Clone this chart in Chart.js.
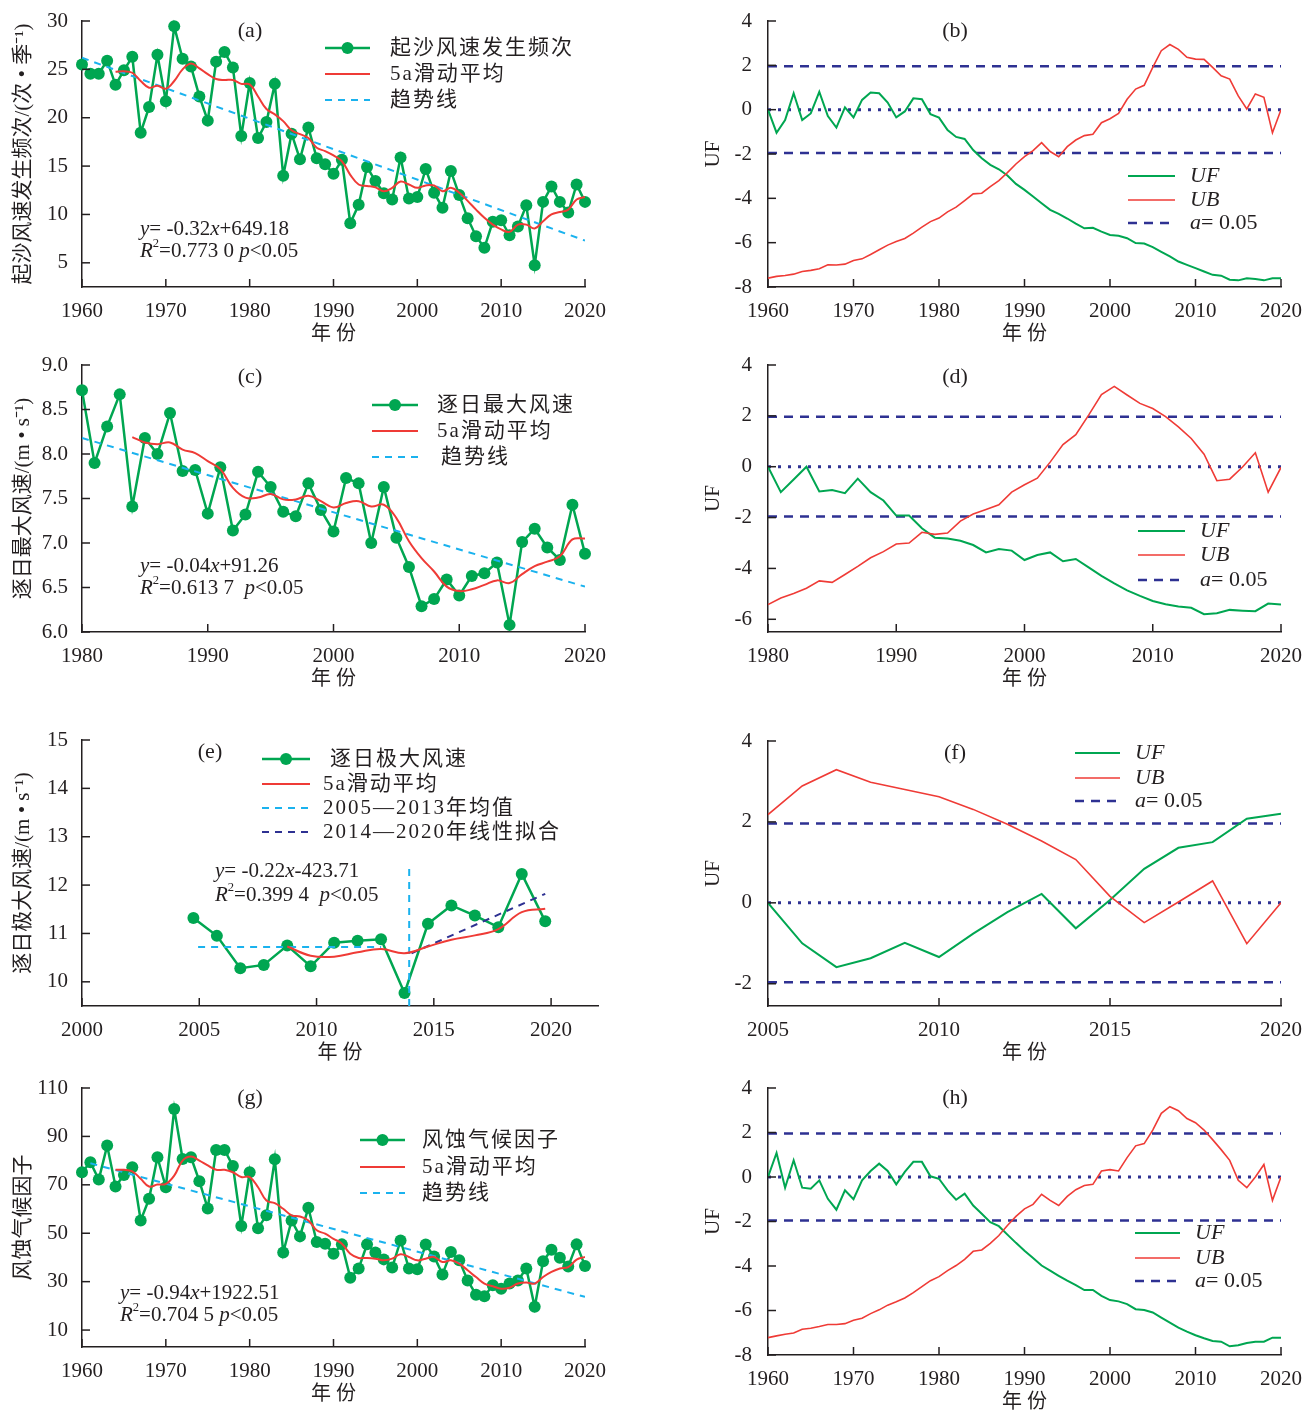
<!DOCTYPE html>
<html><head><meta charset="utf-8">
<script src="https://cdn.jsdelivr.net/npm/chart.js@4.4.1/dist/chart.umd.min.js"></script>
<style>
html,body{margin:0;padding:0;background:#fff;overflow:hidden;width:1306px;height:1411px;}
canvas{position:absolute;}
</style></head><body>
<script>
// ---------------- DATA ----------------
function range(a,b){const r=[];for(let i=a;i<=b;i++)r.push(i);return r;}
const years60 = range(1960,2020);
const years80 = range(1980,2020);
const years05 = range(2005,2020);

// (a) 起沙风速发生频次
const freqA = [25.5,24.55,24.55,25.9,23.4,24.9,26.3,18.45,21.1,26.5,
  21.7,29.45,26.1,25.3,22.2,19.7,25.8,26.8,25.2,18.1,
  23.6,17.9,19.55,23.5,14.0,18.35,15.7,19.0,15.8,15.2,
  14.2,15.65,9.1,11.0,14.9,13.45,12.2,11.55,15.9,11.65,
  11.8,14.7,12.25,10.7,14.5,12.0,9.6,7.75,6.55,9.25,
  9.4,7.85,8.75,10.95,4.75,11.3,12.9,11.3,10.2,13.1,11.3];
const maYearsA = range(1964,2020);
const maA = [24.76,24.8,24.65,23.8,23.1,23.3,
  23.0,23.8,25.0,25.6,25.1,24.5,24.0,23.9,23.9,23.5,
  23.45,22.2,20.9,20.35,19.65,18.7,18.3,17.9,16.9,16.55,
  16.1,15.5,14.1,13.1,12.95,12.8,12.4,12.75,13.4,13.1,
  12.75,13.0,13.0,12.4,12.75,12.25,11.4,10.5,9.65,8.95,
  8.45,8.2,8.95,8.95,8.55,9.3,10.0,10.25,10.5,11.55,11.8];
const trendXA = [1960,2020], trendA = [26.2,7.3];
const ufB = [0,-1.04,-0.47,0.74,-0.47,-0.17,0.8,-0.29,-0.81,0.1,
  -0.35,0.44,0.77,0.74,0.32,-0.35,-0.08,0.51,0.47,-0.2,
  -0.36,-0.92,-1.23,-1.32,-1.82,-2.19,-2.49,-2.69,-2.97,-3.35,
  -3.62,-3.92,-4.22,-4.52,-4.7,-4.91,-5.14,-5.35,-5.33,-5.5,
  -5.65,-5.69,-5.8,-6.02,-6.04,-6.2,-6.41,-6.62,-6.85,-7.0,
  -7.15,-7.3,-7.45,-7.49,-7.67,-7.7,-7.61,-7.64,-7.7,-7.61,-7.61];
const ubB = [-7.6,-7.52,-7.48,-7.42,-7.3,-7.25,-7.18,-7.0,-7.01,-6.97,
  -6.8,-6.73,-6.53,-6.32,-6.11,-5.95,-5.81,-5.57,-5.3,-5.05,
  -4.89,-4.61,-4.4,-4.1,-3.8,-3.77,-3.47,-3.2,-2.84,-2.45,
  -2.12,-1.85,-1.49,-1.89,-2.12,-1.67,-1.37,-1.17,-1.11,-0.59,
  -0.41,-0.17,0.47,0.93,1.1,1.91,2.66,2.94,2.72,2.36,
  2.28,2.27,1.91,1.53,1.38,0.62,0.03,0.71,0.56,-1.04,0];

// (c) 逐日最大风速
const maxC = [8.715,7.9,8.31,8.67,7.41,8.18,8.0,8.46,7.81,7.82,
  7.33,7.85,7.14,7.32,7.8,7.63,7.35,7.3,7.67,7.37,
  7.13,7.73,7.67,7.0,7.63,7.06,6.73,6.29,6.37,6.59,
  6.41,6.63,6.66,6.78,6.08,7.01,7.16,6.95,6.81,7.43,6.88];
const maYearsC = range(1984,2020);
const maC = [8.19,8.13,8.11,8.13,8.05,8.01,
  7.92,7.83,7.62,7.51,7.51,7.55,7.49,7.49,7.53,7.47,
  7.4,7.45,7.47,7.41,7.43,7.28,7.02,6.83,6.68,6.51,
  6.46,6.48,6.53,6.58,6.55,6.65,6.74,6.79,6.85,7.04,7.05];
const trendXC = [1980,2020], trendC = [8.18,6.51];
const ufD = [0,-1.0,-0.5,0,-0.97,-0.92,-1.04,-0.47,-1.0,-1.33,
  -1.92,-1.92,-2.42,-2.79,-2.82,-2.91,-3.08,-3.37,-3.24,-3.3,
  -3.67,-3.47,-3.37,-3.72,-3.63,-3.96,-4.29,-4.59,-4.86,-5.08,
  -5.28,-5.41,-5.5,-5.55,-5.8,-5.76,-5.63,-5.66,-5.68,-5.38,-5.42];
const ubD = [-5.42,-5.16,-4.99,-4.78,-4.49,-4.55,-4.24,-3.92,-3.58,-3.34,
  -3.04,-3.0,-2.58,-2.66,-2.61,-2.14,-1.86,-1.68,-1.5,-1.0,
  -0.71,-0.45,0.18,0.87,1.26,2.03,2.84,3.16,2.82,2.49,
  2.29,1.97,1.57,1.11,0.49,-0.55,-0.49,-0.01,0.55,-1.0,-0.03];

// (e) 逐日极大风速
const extE = [11.32,10.95,10.28,10.35,10.75,10.32,10.81,10.85,10.88,9.77,11.2,11.58,11.37,11.13,12.23,11.25];
const maYearsE = range(2009,2020);
const maE = [10.73,10.54,10.52,10.61,10.68,10.59,10.73,10.87,10.96,11.09,11.44,11.51];
const meanXE = [2005.2,2013], meanE = [10.72,10.72];
const fitXE = [2014.3,2020], fitE = [10.59,11.82];
const breakXE = [2014.2,2014.2], breakE = [9.5,12.4];
const ufF = [0,-1.0,-1.59,-1.37,-0.99,-1.34,-0.76,-0.23,0.22,-0.63,0.07,0.84,1.36,1.5,2.08,2.2];
const ubF = [2.18,2.89,3.29,2.98,2.8,2.62,2.31,1.94,1.53,1.07,0.16,-0.49,0.02,0.54,-1.01,0];

// (g) 风蚀气候因子
const factorG = [75.2,79.3,72.2,86.2,69.3,74.1,77.3,55.3,64.2,81.4,
  69.0,101.3,80.7,81.4,71.5,60.2,84.4,84.4,77.8,53.0,
  75.2,52.1,57.4,80.6,42.0,55.3,48.7,60.5,46.4,45.7,
  41.5,45.4,31.6,35.4,45.4,42.0,39.2,35.8,47.0,35.4,
  35.1,45.3,40.4,33.0,42.2,38.8,30.5,24.6,24.0,28.5,
  27.1,29.2,30.5,35.4,19.6,38.4,43.2,39.9,36.3,45.4,36.5];
const maYearsG = range(1964,2020);
const maG = [76.2,76.2,75.6,72.5,69.3,70.1,
  70.4,73.8,80.0,81.7,80.0,78.0,76.2,76.2,75.2,73.2,
  73.2,69.0,63.5,62.4,60.1,57.4,56.9,55.3,51.2,49.8,
  47.7,45.7,41.5,39.8,39.8,39.5,38.8,39.5,41.3,40.2,
  38.8,39.5,40.2,38.1,38.8,37.4,34.7,31.9,29.2,28.1,
  27.1,27.5,29.2,29.6,29.2,31.9,34.0,35.4,36.0,39.1,40.2];
const trendXG = [1961,2020], trendG = [78.9,23.7];
const ufH = [0,1.08,-0.48,0.75,-0.48,-0.53,-0.15,-0.98,-1.47,-0.6,
  -1.0,-0.15,0.27,0.6,0.27,-0.33,0.23,0.68,0.68,0.03,
  -0.08,-0.6,-1.02,-0.75,-1.28,-1.65,-2.03,-2.21,-2.59,-2.96,
  -3.31,-3.64,-3.98,-4.21,-4.44,-4.66,-4.86,-5.08,-5.08,-5.34,
  -5.53,-5.59,-5.71,-5.94,-5.98,-6.09,-6.32,-6.54,-6.77,-6.95,
  -7.11,-7.25,-7.37,-7.4,-7.61,-7.56,-7.46,-7.4,-7.4,-7.22,-7.22];
const ubH = [-7.22,-7.14,-7.07,-7.01,-6.84,-6.8,-6.72,-6.63,-6.63,-6.59,
  -6.44,-6.35,-6.14,-5.97,-5.76,-5.61,-5.44,-5.2,-4.93,-4.66,
  -4.48,-4.21,-3.98,-3.7,-3.34,-3.28,-2.98,-2.63,-2.18,-1.77,
  -1.43,-1.23,-0.78,-1.05,-1.28,-0.87,-0.57,-0.38,-0.33,0.27,
  0.33,0.27,0.87,1.4,1.5,2.11,2.86,3.16,2.98,2.63,
  2.44,2.11,1.68,1.23,0.75,-0.15,-0.48,0,0.56,-1.05,0];

const critU = 1.96;
// tick labels
const xTicks60 = [1960,1970,1980,1990,2000,2010,2020];
const xTicks80 = [1980,1990,2000,2010,2020];
const xTicksE = [2000,2005,2010,2015,2020];
const xTicksF = [2005,2010,2015,2020];
const yTicksA = [5,10,15,20,25,30];
const yTicksC = [6.0,6.5,7.0,7.5,8.0,8.5,9.0];
const yTicksE = [10,11,12,13,14,15];
const yTicksG = [10,30,50,70,90,110];
const yTicksUF8 = [-8,-6,-4,-2,0,2,4];
const yTicksUF6 = [-6,-4,-2,0,2,4];
const yTicksUF2 = [-2,0,2,4];
const xShiftE = 0.25;

// ---------------- STYLE ----------------
const G='#00a651', RD='#ef3b36', LB='#1ab2ee', NV='#2e3192', AX='#231f20';
const SERIF="'Liberation Serif','Noto Sans CJK SC',serif";
const CJK="'Liberation Serif','Noto Sans CJK SC',sans-serif";
function pts(xs,ys){return ys.map((y,i)=>({x:xs[i],y:y}));}

function dsGreen(xs,ys){return {data:pts(xs,ys),borderColor:G,backgroundColor:G,borderWidth:2.5,pointRadius:6,pointBorderWidth:0,pointHoverRadius:6,clip:false,order:3};}
function dsRed(xs,ys){return {data:pts(xs,ys),borderColor:RD,borderWidth:2,pointRadius:0,tension:0.4,order:1};}
function dsDash(xs,ys,c){return {data:pts(xs,ys),borderColor:c,borderWidth:2,borderDash:[7,6],pointRadius:0,order:2};}
function dsUF(xs,ys){return {data:pts(xs,ys),borderColor:G,borderWidth:2,pointRadius:0,order:2};}
function dsUB(xs,ys){return {data:pts(xs,ys),borderColor:RD,borderWidth:1.6,pointRadius:0,order:1};}
function dsRef(x0,x1,v,dotted){return {data:[{x:x0,y:v},{x:x1,y:v}],borderColor:NV,borderWidth:dotted?3:2.5,borderDash:dotted?[3,7]:[9,7],pointRadius:0,order:4};}
function refSet(x0,x1){return [dsRef(x0,x1,critU,false),dsRef(x0,x1,0,true),dsRef(x0,x1,-critU,false)];}

function drawRich(ctx,x,y,segs,size,align,ls){
  let w=0;
  const parts=segs.map(s=>{
    const st=s[1]||'';
    const sz= st==='sup'? size*0.6 : size;
    const f=(st==='i'?'italic ':'')+sz+'px '+SERIF;
    ctx.font=f;
    const l=(st===''&&ls)?ls:'0px';
    if('letterSpacing' in ctx) ctx.letterSpacing=l;
    const mw=ctx.measureText(s[0]).width;
    const p={t:s[0],f:f,w:mw,dy:st==='sup'?-size*0.33:0,ls:l};
    w+=mw; return p;
  });
  let cx= align==='center'? x-w/2 : x;
  ctx.textBaseline='middle'; ctx.textAlign='left'; ctx.fillStyle='#231f20';
  parts.forEach(p=>{ctx.font=p.f; if('letterSpacing' in ctx) ctx.letterSpacing=p.ls; ctx.fillText(p.t,cx,y+p.dy); cx+=p.w;});
  if('letterSpacing' in ctx) ctx.letterSpacing='0px';
}

const legendStyle={
  g:{c:G,w:2.5,d:[],m:true}, r:{c:RD,w:2,d:[]}, lb:{c:LB,w:2,d:[7,6]}, nv:{c:NV,w:2,d:[7,6]},
  uf:{c:G,w:2,d:[]}, ub:{c:RD,w:1.6,d:[]}, a:{c:NV,w:2.5,d:[9,7]}
};

function panel(p){
  const YW=75, XH=60, PT=34, PR=42;
  const ox=p.L-YW, oy=p.T-PT;
  const w=p.R-p.L+YW+PR, h=p.B-p.T+PT+XH;
  const cv=document.createElement('canvas');
  cv.width=w; cv.height=h;
  cv.style.left=ox+'px'; cv.style.top=oy+'px'; cv.style.width=w+'px'; cv.style.height=h+'px';
  document.body.appendChild(cv);
  const decor={id:'decor',afterDraw(chart){
    const ctx=chart.ctx, ca=chart.chartArea, xs=chart.scales.x, ys=chart.scales.y;
    ctx.save();
    ctx.strokeStyle=AX; ctx.lineWidth=1.5; ctx.setLineDash([]);
    const len=8;
    xs.ticks.forEach(t=>{const px=xs.getPixelForValue(t.value);ctx.beginPath();ctx.moveTo(px,ca.bottom);ctx.lineTo(px,ca.bottom-len);ctx.stroke();});
    ys.ticks.forEach(t=>{const py=ys.getPixelForValue(t.value);ctx.beginPath();ctx.moveTo(ca.left,py);ctx.lineTo(ca.left+len,py);ctx.stroke();});
    // legend
    const lg=p.legend;
    lg.rows.forEach(r=>{
      const s=legendStyle[r.k];
      ctx.strokeStyle=s.c; ctx.lineWidth=s.w; ctx.setLineDash(s.d);
      ctx.beginPath(); ctx.moveTo(lg.x1-ox,r.y-oy); ctx.lineTo(lg.x2-ox,r.y-oy); ctx.stroke();
      ctx.setLineDash([]);
      if(s.m){ctx.fillStyle=s.c;ctx.beginPath();ctx.arc((lg.x1+lg.x2)/2-ox,r.y-oy,6,0,Math.PI*2);ctx.fill();}
      drawRich(ctx,(r.tx||lg.tx)-ox,r.y-oy,r.segs,lg.size,'left',lg.ls);
    });
    (p.texts||[]).forEach(t=>drawRich(ctx,t.x-ox,t.y-oy,t.segs,t.size,t.align||'left'));
    ctx.restore();
  }};
  const tickFont={family:SERIF,size:21};
  new Chart(cv,{
    type:'line',
    data:{datasets:p.datasets},
    options:{
      responsive:false,animation:false,devicePixelRatio:1,
      events:[],
      layout:{padding:{top:PT,right:PR,left:0,bottom:0}},
      plugins:{legend:{display:false},tooltip:{enabled:false}},
      scales:{
        x:{type:'linear',min:p.xmin,max:p.xmax,
          afterBuildTicks:s=>{s.ticks=p.xticks.map(v=>({value:v+(p.xshift||0)}));},
          afterFit:s=>{s.height=XH;},
          grid:{display:false,drawTicks:false},
          border:{color:AX,width:1.5},
          ticks:{padding:12,color:AX,font:tickFont,autoSkip:false,maxRotation:0,
            callback:v=>String(Math.round(v-(p.xshift||0)))},
          title:{display:true,text:'年 份',color:AX,font:{family:CJK,size:20},padding:{top:2,bottom:0}}
        },
        y:{type:'linear',min:p.ymin,max:p.ymax,
          afterBuildTicks:s=>{s.ticks=p.yticks.map(v=>({value:v}));},
          afterFit:s=>{s.width=YW;},
          grid:{display:false,drawTicks:false},
          border:{color:AX,width:1.5},
          ticks:{padding:p.ypad,color:AX,font:tickFont,autoSkip:false,
            callback:v=>p.ydec?v.toFixed(p.ydec):String(v)},
          title:{display:true,text:p.ytitle,color:AX,font:{family:p.ytitleFont||CJK,size:p.ytitleSize||21},padding:{top:p.ytpad,bottom:0}}
        }
      }
    },
    plugins:[decor]
  });
}

const lbl=(t,x,y)=>({x:x,y:y,segs:[[t,'']],size:22,align:'center'});
const eq1=(x,y,a,b)=>({x:x,y:y,size:21,segs:[['y','i'],['= '+a,''],['x','i'],[b,'']]});
const eq2=(x,y,r,gap)=>({x:x,y:y,size:21,segs:[['R','i'],['2','sup'],['='+r+gap,''],['p','i'],['<0.05','']]});
const ufLegend=(x1,x2,tx,y1,y2,y3)=>({x1:x1,x2:x2,tx:tx,size:22,rows:[
  {k:'uf',y:y1,segs:[['UF','i']]},{k:'ub',y:y2,segs:[['UB','i']]},{k:'a',y:y3,segs:[['a','i'],['= 0.05','']]}]});

// (a)
panel({L:82,T:21,R:585,B:287,xmin:1960,xmax:2020,ymin:2.5,ymax:30,xticks:xTicks60,yticks:yTicksA,ypad:14,
  ytitle:'起沙风速发生频次/(次 • 季⁻¹)',ytpad:4,
  datasets:[dsRed(maYearsA,maA),dsDash(trendXA,trendA,LB),dsGreen(years60,freqA)],
  legend:{x1:325,x2:370,tx:390,size:21,ls:'2px',rows:[{k:'g',y:48,segs:[['起沙风速发生频次','']]},{k:'r',y:74,segs:[['5a滑动平均','']]},{k:'lb',y:100,segs:[['趋势线','']]}]},
  texts:[lbl('(a)',250,31),eq1(140,229,'-0.32','+649.18'),eq2(140,251,'0.773 0',' ')]});
// (b)
panel({L:768,T:21,R:1281,B:287,xmin:1960,xmax:2020,ymin:-8,ymax:4,xticks:xTicks60,yticks:yTicksUF8,ypad:16,
  ytitle:'UF',ytitleFont:SERIF,ytitleSize:21,ytpad:8,
  datasets:[dsUB(years60,ubB),dsUF(years60,ufB),...refSet(1960,2020)],
  legend:ufLegend(1128,1175,1190,176,200,223),
  texts:[lbl('(b)',955,31)]});
// (c)
panel({L:82,T:365,R:585,B:632,xmin:1980,xmax:2020,ymin:6,ymax:9,xticks:xTicks80,yticks:yTicksC,ydec:1,ypad:14,
  ytitle:'逐日最大风速/(m • s⁻¹)',ytpad:4,
  datasets:[dsRed(maYearsC,maC),dsDash(trendXC,trendC,LB),dsGreen(years80,maxC)],
  legend:{x1:372,x2:418,tx:437,size:21,ls:'2px',rows:[{k:'g',y:405,segs:[['逐日最大风速','']]},{k:'r',y:431,segs:[['5a滑动平均','']]},{k:'lb',y:457,tx:441,segs:[['趋势线','']]}]},
  texts:[lbl('(c)',250,377),eq1(140,566,'-0.04','+91.26'),eq2(140,588,'0.613 7','  ')]});
// (d)
panel({L:768,T:365,R:1281,B:632,xmin:1980,xmax:2020,ymin:-6.5,ymax:4,xticks:xTicks80,yticks:yTicksUF6,ypad:16,
  ytitle:'UF',ytitleFont:SERIF,ytitleSize:21,ytpad:8,
  datasets:[dsUB(years80,ubD),dsUF(years80,ufD),...refSet(1980,2020)],
  legend:ufLegend(1138,1185,1200,531,555,580),
  texts:[lbl('(d)',955,377)]});
// (e)
panel({L:82,T:740,R:598,B:1006,xmin:2000+xShiftE,xmax:2022+xShiftE,xshift:xShiftE,ymin:9.5,ymax:15,xticks:xTicksE,yticks:yTicksE,ypad:14,
  ytitle:'逐日极大风速/(m • s⁻¹)',ytpad:4,
  datasets:[dsRed(maYearsE,maE),dsDash(meanXE,meanE,LB),dsDash(breakXE,breakE,LB),dsDash(fitXE,fitE,NV),dsGreen(years05,extE)],
  legend:{x1:262,x2:310,tx:323,size:21,ls:'2px',rows:[{k:'g',y:759,tx:330,segs:[['逐日极大风速','']]},{k:'r',y:784,segs:[['5a滑动平均','']]},{k:'lb',y:808,segs:[['2005—2013年均值','']]},{k:'nv',y:832,segs:[['2014—2020年线性拟合','']]}]},
  texts:[lbl('(e)',210,752),eq1(215,871,'-0.22','-423.71'),eq2(215,895,'0.399 4','  ')]});
// (f)
panel({L:768,T:741,R:1281,B:1006,xmin:2005,xmax:2020,ymin:-2.55,ymax:4,xticks:xTicksF,yticks:yTicksUF2,ypad:16,
  ytitle:'UF',ytitleFont:SERIF,ytitleSize:21,ytpad:8,
  datasets:[dsUB(years05,ubF),dsUF(years05,ufF),...refSet(2005,2020)],
  legend:ufLegend(1075,1120,1135,753,778,801),
  texts:[lbl('(f)',955,753)]});
// (g)
panel({L:82,T:1088,R:585,B:1347,xmin:1960,xmax:2020,ymin:3,ymax:110,xticks:xTicks60,yticks:yTicksG,ypad:14,
  ytitle:'风蚀气候因子',ytpad:4,
  datasets:[dsRed(maYearsG,maG),dsDash(trendXG,trendG,LB),dsGreen(years60,factorG)],
  legend:{x1:360,x2:405,tx:422,size:21,ls:'2px',rows:[{k:'g',y:1140,segs:[['风蚀气候因子','']]},{k:'r',y:1167,segs:[['5a滑动平均','']]},{k:'lb',y:1193,segs:[['趋势线','']]}]},
  texts:[lbl('(g)',250,1098),eq1(120,1293,'-0.94','+1922.51'),eq2(120,1315,'0.704 5',' ')]});
// (h)
panel({L:768,T:1088,R:1281,B:1355,xmin:1960,xmax:2020,ymin:-8,ymax:4,xticks:xTicks60,yticks:yTicksUF8,ypad:16,
  ytitle:'UF',ytitleFont:SERIF,ytitleSize:21,ytpad:8,
  datasets:[dsUB(years60,ubH),dsUF(years60,ufH),...refSet(1960,2020)],
  legend:ufLegend(1135,1180,1195,1233,1258,1281),
  texts:[lbl('(h)',955,1098)]});
</script>
</body></html>
